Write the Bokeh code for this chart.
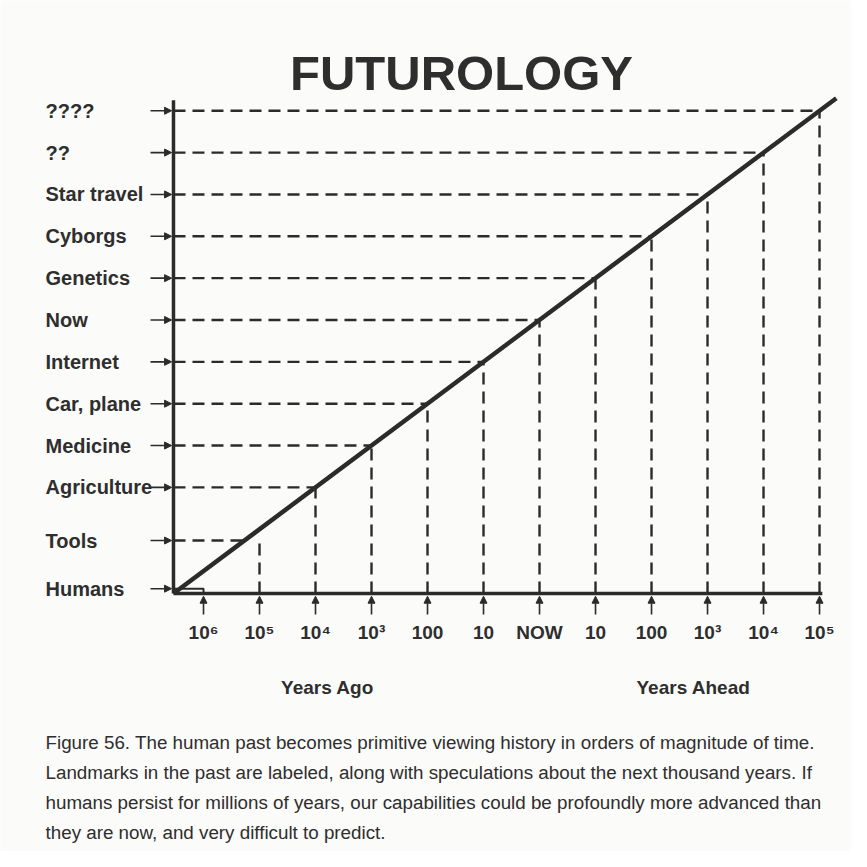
from bokeh.plotting import figure
from bokeh.models import Range1d, ColumnDataSource, Arrow, NormalHead
from bokeh.core.properties import value
from bokeh.embed import file_html
from bokeh.resources import INLINE

# ---------------- data ----------------
milestones = ["Humans", "Tools", "Agriculture", "Medicine", "Car, plane", "Internet",
              "Now", "Genetics", "Cyborgs", "Star travel", "??", "????"]
milestone_levels = [-0.42, 0.73, 2, 3, 4, 5, 6, 7, 8, 9, 10, 11]

tick_labels = ["10\u2076", "10\u2075", "10\u2074", "10\u00b3", "100", "10",
               "NOW", "10", "100", "10\u00b3", "10\u2074", "10\u2075"]
tick_positions = [0, 1, 2, 3, 4, 5, 6, 7, 8, 9, 10, 11]
vertical_tops = [-0.42, 0.73, 2, 3, 4, 5, 6, 7, 8, 9, 10, 11]

axis_titles = ["Years Ago", "Years Ahead"]
title_text = "FUTUROLOGY"
caption_lines = [
    "Figure 56. The human past becomes primitive viewing history in orders of magnitude of time.",
    "Landmarks in the past are labeled, along with speculations about the next thousand years. If",
    "humans persist for millions of years, our capabilities could be profoundly more advanced than",
    "they are now, and very difficult to predict.",
]

# ---------------- layout constants ----------------
ORIGIN = -0.536
INK = "#2b2b2b"
TXT = "#2e2e2e"
BG = "#fbfbf9"
FONT = value("Liberation Sans")

p = figure(width=851, height=851, output_backend="svg", toolbar_location=None,
           x_range=Range1d(-3.625, 11.571), y_range=Range1d(-6.70, 13.634),
           min_border=0, min_border_left=0, min_border_right=0,
           min_border_top=0, min_border_bottom=0)
p.axis.visible = False
p.grid.visible = False
p.outline_line_color = None
p.background_fill_color = BG
p.border_fill_color = BG

# dashed horizontals (milestone -> diagonal)
h_src = ColumnDataSource(dict(x0=[ORIGIN] * 11, y0=milestone_levels[1:],
                              x1=milestone_levels[1:], y1=milestone_levels[1:]))
p.segment("x0", "y0", "x1", "y1", source=h_src, line_color=INK, line_width=2.4,
          line_dash="12 7")

# dashed verticals (tick -> diagonal)
v_src = ColumnDataSource(dict(x0=tick_positions[1:], y0=[ORIGIN] * 11,
                              x1=tick_positions[1:], y1=vertical_tops[1:]))
p.segment("x0", "y0", "x1", "y1", source=v_src, line_color=INK, line_width=2.4,
          line_dash="12 7")

# small solid hook for Humans / 10^6
p.line(x=[ORIGIN, tick_positions[0], tick_positions[0]],
       y=[milestone_levels[0], milestone_levels[0], ORIGIN],
       line_color=INK, line_width=2)

# axes
p.line(x=[ORIGIN, ORIGIN], y=[ORIGIN, 11.25], line_color=INK, line_width=3.5)
p.line(x=[ORIGIN, 11.05], y=[ORIGIN, ORIGIN], line_color=INK, line_width=3.5)

# diagonal
p.line(x=[ORIGIN, 11.3], y=[ORIGIN, 11.3], line_color=INK, line_width=4.5)

# arrows into the y axis
ya_src = ColumnDataSource(dict(xs=[-0.946] * 12, xe=[-0.57] * 12,
                               ys=milestone_levels, ye=milestone_levels))
p.add_layout(Arrow(end=NormalHead(size=7, fill_color=INK, line_color=INK),
                   x_start="xs", y_start="ys", x_end="xe", y_end="ye",
                   source=ya_src, line_color=INK, line_width=1.6))

# arrows into the x axis
xa_src = ColumnDataSource(dict(xs=tick_positions, xe=tick_positions,
                               ys=[-1.04] * 12, ye=[-0.60] * 12))
p.add_layout(Arrow(end=NormalHead(size=7, fill_color=INK, line_color=INK),
                   x_start="xs", y_start="ys", x_end="xe", y_end="ye",
                   source=xa_src, line_color=INK, line_width=1.6))

# milestone labels
p.text(x=[-2.821] * 12, y=milestone_levels, text=milestones,
       text_font=FONT, text_font_style="bold", text_font_size="20px",
       text_color=TXT, text_align="left", text_baseline="middle")

# tick labels
p.text(x=tick_positions, y=[-1.47] * 12, text=tick_labels,
       text_font=FONT, text_font_style="bold", text_font_size="19px",
       text_color=TXT, text_align="center", text_baseline="middle")

# axis titles
p.text(x=[2.214, 8.75], y=[-2.78, -2.78], text=axis_titles,
       text_font=FONT, text_font_style="bold", text_font_size="19px",
       text_color=TXT, text_align="center", text_baseline="middle")

# title
p.text(x=[4.607], y=[11.91], text=[title_text],
       text_font=FONT, text_font_style="bold", text_font_size="49px",
       text_color=TXT, text_align="center", text_baseline="middle")

# caption
cap_y = [-4.096 - 0.717 * i for i in range(len(caption_lines))]
p.text(x=[-2.821] * len(caption_lines), y=cap_y, text=caption_lines,
       text_font=FONT, text_font_size="18.8px",
       text_color=TXT, text_align="left", text_baseline="middle")

open("out.html", "w").write(file_html(p, INLINE))
